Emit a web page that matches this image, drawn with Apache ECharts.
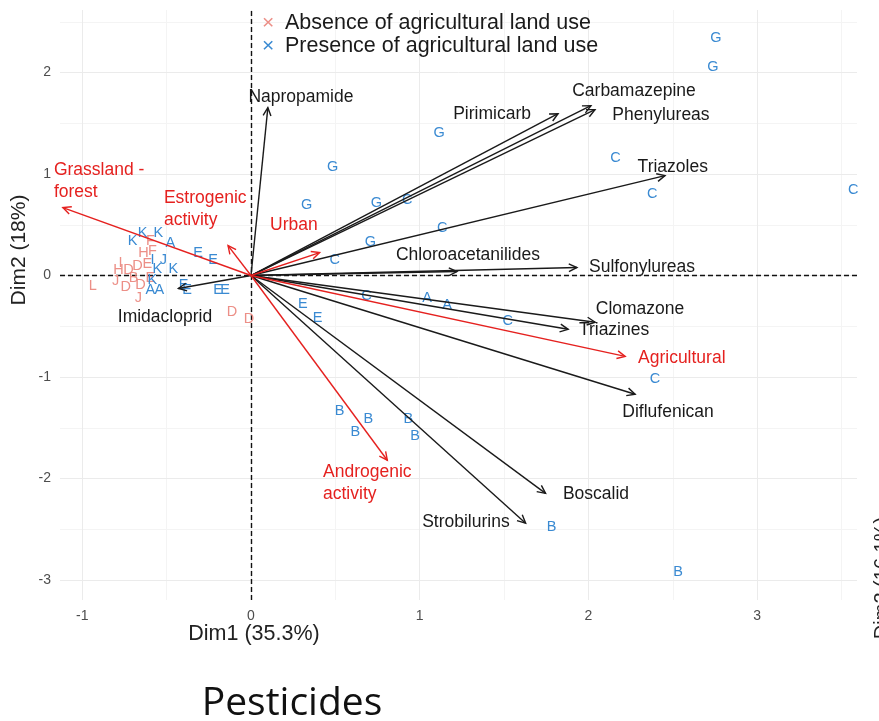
<!DOCTYPE html>
<html><head><meta charset="utf-8">
<script src="https://cdn.jsdelivr.net/npm/echarts@6/dist/echarts.min.js"></script>
<style>html,body{margin:0;padding:0;background:#fff}#c{width:879px;height:721px}</style>
</head><body><div id="c"></div>
<script>
// ---------- data ----------
const xTicks = [-1, 0, 1, 2, 3];
const yTicks = [-3, -2, -1, 0, 1, 2];
const xMinor = [-0.5, 0.5, 1.5, 2.5, 3.5];
const yMinor = [-2.5, -1.5, -0.5, 0.5, 1.5, 2.5];

const groupNames = ['Absence of agricultural land use', 'Presence of agricultural land use'];

// individuals – presence of agricultural land use
const presenceLabel = ['G','G','G','G','G','G','C','C','G','C','C','C','C','C','A','A','C','C','E','E','B','B','B','B','B','B','B',
  'K','K','K','A','I','J','K','K','K','A','A','E','E','E','E','E','E'];
const presenceX = [2.755,2.738,1.115,0.484,0.330,0.743,0.926,1.133,0.708,0.496,2.16,2.378,3.57,0.684,1.044,1.162,1.522,2.395,0.307,0.395,0.525,0.696,0.619,0.932,0.973,1.782,2.531,
  -0.643,-0.702,-0.549,-0.478,-0.584,-0.52,-0.555,-0.46,-0.584,-0.596,-0.543,-0.40,-0.378,-0.313,-0.224,-0.195,-0.153];
const presenceY = [2.34,2.057,1.40,1.07,0.69,0.71,0.74,0.47,0.335,0.148,1.16,0.807,0.84,-0.197,-0.217,-0.295,-0.453,-1.024,-0.285,-0.42,-1.339,-1.41,-1.545,-1.41,-1.585,-2.48,-2.92,
  0.423,0.344,0.423,0.325,0.148,0.148,0.06,0.06,-0.04,-0.14,-0.14,-0.09,-0.14,0.226,0.148,-0.14,-0.14];

// individuals – absence of agricultural land use
const absenceLabel = ['H','F','F','L','H','J','I','D','D','B','D','D','E','J','E','D','D'];
const absenceX = [-0.637,-0.584,-0.596,-0.938,-0.785,-0.667,-0.773,-0.726,-0.673,-0.696,-0.743,-0.655,-0.596,-0.802,-0.614,-0.112,-0.012];
const absenceY = [0.226,0.246,0.344,-0.10,0.05,-0.217,0.128,0.059,0.098,-0.02,-0.118,-0.089,-0.02,-0.05,0.118,-0.364,-0.433];

// active variables (pesticides)
const pestNames = ['Napropamide','Pirimicarb','Carbamazepine','Phenylureas','Triazoles','Chloroacetanilides','Sulfonylureas','Clomazone','Triazines','Diflufenican','Boscalid','Strobilurins','Imidacloprid'];
const pestX = [0.10,1.82,2.015,2.039,2.454,1.221,1.932,2.04,1.88,2.277,1.746,1.628,-0.43];
const pestY = [1.654,1.594,1.673,1.634,0.984,0.039,0.079,-0.46,-0.53,-1.17,-2.146,-2.44,-0.128];
const pestLabelX = [0.296,1.429,2.27,2.43,2.50,1.286,2.318,2.306,2.152,2.472,2.045,1.274,-0.51];
const pestLabelY = [1.762,1.585,1.82,1.575,1.063,0.197,0.079,-0.335,-0.541,-1.348,-2.156,-2.431,-0.413];

// supplementary variables
const suppNames = ['Grassland -\nforest','Estrogenic\nactivity','Urban','Agricultural','Androgenic\nactivity'];
const suppX = [-1.115,-0.136,0.407,2.218,0.808];
const suppY = [0.669,0.295,0.226,-0.797,-1.82];
const suppLabelX = [-1.168,-0.516,0.113,2.294,0.427];
const suppLabelY = [0.93,0.654,0.492,-0.817,-2.047];

// ---------- styles ----------
const C_ABS = '#ec8f87';
const C_PRES = '#3a8ad2';
const C_RED = '#e5211f';
const C_BLACK = '#1a1a1a';
const FONT = 'Liberation Sans, Arial, sans-serif';

const chart = echarts.init(document.getElementById('c'));

function gridLines(vals, axis, color) {
  return vals.map(v => ({ [axis]: v, lineStyle: { color: color, width: 1, type: 'solid' } }));
}

function arrowRender(color) {
  return function (params, api) {
    const o = api.coord([0, 0]);
    const t = api.coord([api.value(0), api.value(1)]);
    const a = Math.atan2(t[1] - o[1], t[0] - o[0]);
    const L = 9, w = 0.45;
    const p1 = [t[0] - L * Math.cos(a - w), t[1] - L * Math.sin(a - w)];
    const p2 = [t[0] - L * Math.cos(a + w), t[1] - L * Math.sin(a + w)];
    return {
      type: 'group',
      children: [
        { type: 'line', shape: { x1: o[0], y1: o[1], x2: t[0], y2: t[1] }, style: { stroke: color, lineWidth: 1.4 } },
        { type: 'polyline', shape: { points: [p1, t, p2] }, style: { stroke: color, lineWidth: 1.4, fill: null } }
      ]
    };
  };
}

function textRender(color, size, align, names) {
  return function (params, api) {
    const p = api.coord([api.value(0), api.value(1)]);
    return {
      type: 'text', x: p[0], y: p[1],
      style: { text: names[params.dataIndex], fill: color, font: size + 'px ' + FONT, align: align, verticalAlign: 'middle', lineHeight: size * 1.3 }
    };
  };
}

const option = {
  animation: false,
  backgroundColor: '#ffffff',
  grid: { left: 60, right: 22, top: 10, bottom: 121 },
  xAxis: {
    type: 'value', min: -1.132, max: 3.592,
    axisLine: { show: false }, axisTick: { show: false }, splitLine: { show: false },
    axisLabel: { customValues: xTicks, color: '#4d4d4d', fontSize: 14, margin: 9, fontFamily: FONT }
  },
  yAxis: {
    type: 'value', min: -3.197, max: 2.616,
    axisLine: { show: false }, axisTick: { show: false }, splitLine: { show: false },
    axisLabel: { customValues: yTicks, color: '#4d4d4d', fontSize: 14, margin: 9, fontFamily: FONT }
  },
  series: [
    {
      type: 'line', data: [], silent: true, z: 0, zlevel: 0,
      markLine: {
        silent: true, symbol: 'none', label: { show: false }, animation: false, z: 0,
        data: [].concat(
          gridLines(xMinor, 'xAxis', '#f4f4f4'), gridLines(yMinor, 'yAxis', '#f4f4f4'),
          gridLines(xTicks, 'xAxis', '#ebebeb'), gridLines(yTicks, 'yAxis', '#ebebeb')
        )
      }
    },
    {
      type: 'line', data: [], silent: true, z: 1,
      markLine: {
        silent: true, symbol: 'none', label: { show: false }, animation: false, z: 1,
        data: [{ xAxis: 0, lineStyle: { color: '#111', width: 1.4, type: [5, 3] } },
               { yAxis: 0, lineStyle: { color: '#111', width: 1.4, type: [5, 3] } }]
      }
    },
    {
      name: groupNames[0], type: 'custom', coordinateSystem: 'cartesian2d', z: 5,
      data: absenceX.map((x, i) => [x, absenceY[i]]),
      renderItem: textRender(C_ABS, 14.5, 'center', absenceLabel)
    },
    {
      name: groupNames[1], type: 'custom', coordinateSystem: 'cartesian2d', z: 5,
      data: presenceX.map((x, i) => [x, presenceY[i]]),
      renderItem: textRender(C_PRES, 14.5, 'center', presenceLabel)
    },
    {
      type: 'custom', coordinateSystem: 'cartesian2d', z: 6,
      data: pestX.map((x, i) => [x, pestY[i]]),
      renderItem: arrowRender(C_BLACK)
    },
    {
      type: 'custom', coordinateSystem: 'cartesian2d', z: 6,
      data: suppX.map((x, i) => [x, suppY[i]]),
      renderItem: arrowRender(C_RED)
    },
    {
      type: 'custom', coordinateSystem: 'cartesian2d', z: 7,
      data: pestLabelX.map((x, i) => [x, pestLabelY[i]]),
      renderItem: textRender(C_BLACK, 17.5, 'center', pestNames)
    },
    {
      type: 'custom', coordinateSystem: 'cartesian2d', z: 7,
      data: suppLabelX.map((x, i) => [x, suppLabelY[i]]),
      renderItem: textRender(C_RED, 17.5, 'left', suppNames)
    }
  ],
  graphic: [
    { type: 'text', z: 100, left: 262, top: 13, style: { text: '×', fill: C_ABS, font: '21px ' + FONT } },
    { type: 'text', z: 100, left: 285, top: 12, style: { text: groupNames[0], fill: C_BLACK, font: '21.5px ' + FONT } },
    { type: 'text', z: 100, left: 262, top: 36, style: { text: '×', fill: C_PRES, font: '21px ' + FONT } },
    { type: 'text', z: 100, left: 285, top: 35, style: { text: groupNames[1], fill: C_BLACK, font: '21.5px ' + FONT } },
    { type: 'text', z: 100, x: 254, y: 634, style: { text: 'Dim1 (35.3%)', fill: '#222', font: '21.5px ' + FONT, align: 'center', verticalAlign: 'middle' } },
    { type: 'text', z: 100, x: 19, y: 250, rotation: Math.PI / 2, style: { text: 'Dim2 (18%)', fill: '#222', font: '21px ' + FONT, align: 'center', verticalAlign: 'middle' } },
    { type: 'text', z: 100, x: 882, y: 578, rotation: Math.PI / 2, style: { text: 'Dim2 (16.1%)', fill: '#222', font: '20px ' + FONT, align: 'center', verticalAlign: 'middle' } },
    { type: 'text', z: 100, x: 292, y: 704, style: { text: 'Pesticides', fill: '#111', font: '39px Open Sans, sans-serif', align: 'center', verticalAlign: 'middle' } }
  ]
};
chart.setOption(option);
</script>
</body></html>
